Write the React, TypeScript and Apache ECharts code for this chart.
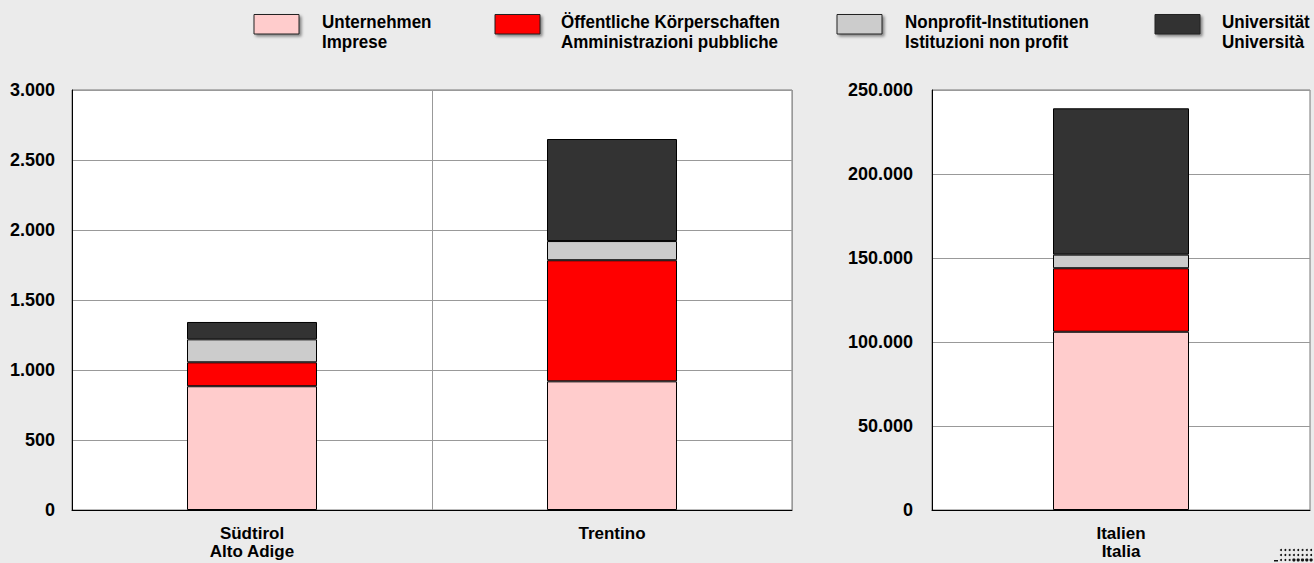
import React, { useEffect, useRef } from "react";
import * as echarts from "echarts";

const SERIES_NAMES = [
  "Unternehmen\nImprese",
  "Öffentliche Körperschaften\nAmministrazioni pubbliche",
  "Nonprofit-Institutionen\nIstituzioni non profit",
  "Universität\nUniversità",
];
const COLORS = ["#ffcccc", "#ff0000", "#cccccc", "#333333"];

const CATS_REGIONS = ["Südtirol\nAlto Adige", "Trentino"];
const CATS_ITALY = ["Italien\nItalia"];

// values per sector: [Südtirol, Trentino]
const UNTERNEHMEN_REG = [884, 919];
const OEFFENTLICH_REG = [171, 865];
const NONPROFIT_REG = [164, 137];
const UNIVERSITAET_REG = [124, 729];

// Italy
const UNTERNEHMEN_IT = [106100];
const OEFFENTLICH_IT = [37800];
const NONPROFIT_IT = [8100];
const UNIVERSITAET_IT = [87100];

const LEFT_TICKS = { min: 0, max: 3000, interval: 500 };
const RIGHT_TICKS = { min: 0, max: 250000, interval: 50000 };

const LEGEND_RECT_X = [254, 495, 837, 1155];
const LEGEND_TEXT_X = [322, 561, 905, 1222];

const FONT = "'Liberation Sans', Arial, Helvetica, sans-serif";

function fmt(v: number): string {
  return String(Math.round(v)).replace(/\B(?=(\d{3})+(?!\d))/g, ".");
}

export default function App() {
  const ref = useRef<HTMLDivElement>(null);
  useEffect(() => {
    if (!ref.current) return;
    const chart = echarts.init(ref.current, null, { renderer: "svg" });
    const regData = [UNTERNEHMEN_REG, OEFFENTLICH_REG, NONPROFIT_REG, UNIVERSITAET_REG];
    const itData = [UNTERNEHMEN_IT, OEFFENTLICH_IT, NONPROFIT_IT, UNIVERSITAET_IT];

    const series: any[] = [];
    SERIES_NAMES.forEach((name, i) => {
      series.push({
        name,
        type: "bar",
        stack: "reg",
        xAxisIndex: 0,
        yAxisIndex: 0,
        barWidth: 130,
        data: regData[i],
        itemStyle: { color: COLORS[i], borderColor: "#000", borderWidth: 1 },
      });
      series.push({
        name,
        type: "bar",
        stack: "it",
        xAxisIndex: 1,
        yAxisIndex: 1,
        barWidth: 136,
        data: itData[i],
        itemStyle: { color: COLORS[i], borderColor: "#000", borderWidth: 1 },
      });
    });

    const graphics: any[] = [];
    SERIES_NAMES.forEach((name, i) => {
      graphics.push({
        type: "rect",
        shape: { x: LEGEND_RECT_X[i], y: 14.5, width: 45, height: 19.5 },
        style: {
          fill: COLORS[i],
          stroke: "#222",
          lineWidth: 1,
          shadowBlur: 3,
          shadowOffsetX: 2,
          shadowOffsetY: 2,
          shadowColor: "rgba(0,0,0,0.45)",
        },
      });
      graphics.push({
        type: "text",
        x: LEGEND_TEXT_X[i],
        y: 31.5,
        scaleY: 1.12,
        style: {
          text: name,
          font: `bold 17px ${FONT}`,
          fill: "#000",
          lineHeight: 17.5,
          textAlign: "left",
          textVerticalAlign: "middle",
        },
      });
    });
    // small logo dots
    for (let r = 0; r < 3; r++) {
      for (let c = 0; c < 8; c++) {
        const big = r === 2 && c >= 3;
        graphics.push({
          type: "circle",
          shape: { cx: 1281 + c * 4.3, cy: 550 + r * 5, r: big ? 1.6 : 1 },
          style: { fill: "#111" },
        });
      }
    }
    graphics.push({
      type: "rect",
      shape: { x: 1274, y: 560, width: 4, height: 1.5 },
      style: { fill: "#111" },
    });

    const axisLabel = {
      color: "#000",
      fontFamily: FONT,
      fontWeight: "bold",
      fontSize: 17,
    };

    chart.setOption({
      animation: false,
      backgroundColor: "#ebebeb",
      grid: [
        { left: 72, top: 90, width: 720, height: 420, show: true, backgroundColor: "#fff", borderColor: "#777", borderWidth: 1 },
        { left: 932, top: 90, width: 378, height: 420, show: true, backgroundColor: "#fff", borderColor: "#777", borderWidth: 1 },
      ],
      xAxis: [
        {
          type: "category",
          gridIndex: 0,
          data: CATS_REGIONS,
          axisLine: { show: true, lineStyle: { color: "#000", width: 1 } },
          axisTick: { show: false },
          splitLine: { show: true, lineStyle: { color: "#999", width: 1 } },
          axisLabel: { ...axisLabel, margin: 14, lineHeight: 18, interval: 0 },
        },
        {
          type: "category",
          gridIndex: 1,
          data: CATS_ITALY,
          axisLine: { show: true, lineStyle: { color: "#000", width: 1 } },
          axisTick: { show: false },
          splitLine: { show: false },
          axisLabel: { ...axisLabel, margin: 14, lineHeight: 18, interval: 0 },
        },
      ],
      yAxis: [
        {
          type: "value",
          gridIndex: 0,
          ...LEFT_TICKS,
          axisLine: { show: true, lineStyle: { color: "#000", width: 1 } },
          axisTick: { show: false },
          splitLine: { show: true, lineStyle: { color: "#999", width: 1 } },
          axisLabel: { ...axisLabel, fontSize: 18, margin: 17, formatter: (v: number) => fmt(v) },
        },
        {
          type: "value",
          gridIndex: 1,
          ...RIGHT_TICKS,
          axisLine: { show: true, lineStyle: { color: "#000", width: 1 } },
          axisTick: { show: false },
          splitLine: { show: true, lineStyle: { color: "#999", width: 1 } },
          axisLabel: { ...axisLabel, fontSize: 18, margin: 19, formatter: (v: number) => fmt(v) },
        },
      ],
      series,
      graphic: graphics,
    });
    return () => chart.dispose();
  }, []);
  return (
    <div
      ref={ref}
      style={{ position: "fixed", left: 0, top: 0, width: 1314, height: 563, background: "#ebebeb" }}
    />
  );
}
